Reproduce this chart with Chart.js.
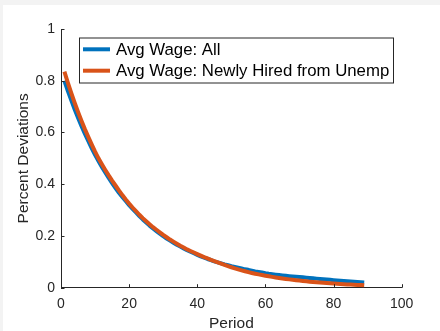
<!DOCTYPE html>
<html><head><meta charset="utf-8">
<script src="https://cdn.jsdelivr.net/npm/chart.js@4"></script>
<style>
html,body{margin:0;padding:0;background:#f3f3f3;width:440px;height:331px;overflow:hidden;}
canvas{display:block;position:absolute;left:0;top:0;}
</style>
</head><body>
<canvas id="c" width="440" height="331"></canvas>
<script>
const periods = [1,2,3,4,5,6,7,8,9,10,11,12,13,14,15,16,17,18,19,20,21,22,23,24,25,26,27,28,29,30,
31,32,33,34,35,36,37,38,39,40,41,42,43,44,45,46,47,48,49,50,51,52,53,54,55,56,57,58,59,60,
61,62,63,64,65,66,67,68,69,70,71,72,73,74,75,76,77,78,79,80,81,82,83,84,85,86,87,88,89];
const avgWageAll = [
0.800,0.761,0.725,0.690,0.657,0.625,0.595,0.567,0.540,0.514,
0.490,0.467,0.445,0.424,0.404,0.385,0.367,0.351,0.335,0.319,
0.305,0.291,0.277,0.264,0.252,0.240,0.229,0.219,0.209,0.199,
0.190,0.182,0.174,0.166,0.159,0.152,0.145,0.139,0.133,0.127,
0.121,0.116,0.111,0.107,0.102,0.098,0.094,0.090,0.087,0.083,
0.080,0.077,0.074,0.071,0.069,0.066,0.063,0.061,0.059,0.056,
0.054,0.0523,0.0506,0.0490,0.0475,0.046,0.0447,0.0435,0.0423,0.0411,
0.040,0.0387,0.0375,0.0363,0.0351,0.034,0.0327,0.0315,0.0303,0.0291,
0.028,0.0269,0.0259,0.0249,0.0239,0.023,0.0221,0.0213,0.0205];
const avgWageNewHire = [
0.835,0.793,0.753,0.715,0.679,0.645,0.613,0.583,0.554,0.526,
0.500,0.477,0.455,0.434,0.414,0.395,0.376,0.358,0.341,0.325,
0.310,0.296,0.282,0.269,0.257,0.245,0.234,0.224,0.214,0.204,
0.195,0.186,0.178,0.170,0.162,0.155,0.148,0.142,0.136,0.130,
0.124,0.118,0.113,0.108,0.103,0.098,0.0929,0.0881,0.0835,0.0791,
0.075,0.0710,0.0672,0.0636,0.0602,0.057,0.0541,0.0514,0.0488,0.0463,
0.044,0.0418,0.0397,0.0377,0.0358,0.034,0.0322,0.0305,0.0289,0.0274,
0.026,0.0247,0.0234,0.0222,0.0211,0.020,0.0189,0.0178,0.0168,0.0159,
0.015,0.0142,0.0135,0.0128,0.0121,0.0115,0.0108,0.0101,0.0095];
const xTicks = [0,20,40,60,80,100];
const xTickLabels = ['0','20','40','60','80','100'];
const yTicks = [0,0.2,0.4,0.6,0.8,1];
const yTickLabels = ['0','0.2','0.4','0.6','0.8','1'];
const seriesLabels = ['Avg Wage: All','Avg Wage: Newly Hired from Unemp'];
const seriesColors = ['#0072BD','#D95319'];

const FONT = "'Liberation Sans', Arial, Helvetica, sans-serif";
const AX = '#262626';

const bgPlugin = {
  id:'bg',
  beforeDraw(chart){
    const ctx = chart.ctx;
    ctx.save();
    ctx.fillStyle = '#f3f3f3';
    ctx.fillRect(0,0,chart.width,chart.height);
    ctx.fillStyle = '#ffffff';
    ctx.fillRect(3,5,chart.width-3,chart.height-5);
    ctx.restore();
  }
};

const tickPlugin = {
  id:'inTicks',
  afterDraw(chart){
    const {ctx, chartArea:a, scales:{x,y}} = chart;
    ctx.save();
    ctx.strokeStyle = AX; ctx.lineWidth = 1;
    ctx.beginPath();
    x.ticks.forEach(t=>{
      const px = Math.round(x.getPixelForValue(t.value)) + 0.5;
      ctx.moveTo(px, a.bottom); ctx.lineTo(px, a.bottom - 3.5);
    });
    y.ticks.forEach(t=>{
      const py = Math.round(y.getPixelForValue(t.value)) + 0.5;
      ctx.moveTo(a.left, py); ctx.lineTo(a.left + 3.5, py);
    });
    ctx.stroke();
    ctx.restore();
  }
};

const legendPlugin = {
  id:'mLegend',
  afterDraw(chart){
    const ctx = chart.ctx;
    ctx.save();
    ctx.fillStyle = '#ffffff';
    ctx.fillRect(79.5, 38, 314, 45);
    ctx.strokeStyle = AX; ctx.lineWidth = 1;
    ctx.strokeRect(79.5, 38, 314, 45);
    chart.data.datasets.forEach((ds,i)=>{
      const ly = 49.3 + i*21.4;
      ctx.strokeStyle = ds.borderColor; ctx.lineWidth = 4; ctx.lineCap = 'butt';
      ctx.beginPath(); ctx.moveTo(83, ly); ctx.lineTo(110, ly); ctx.stroke();
      ctx.fillStyle = '#000000';
      ctx.font = '16.8px ' + FONT;
      ctx.textBaseline = 'middle'; ctx.textAlign = 'left';
      ctx.fillText(ds.label, 116, ly + 1);
    });
    ctx.restore();
  }
};

new Chart(document.getElementById('c'), {
  type:'line',
  data:{
    datasets:[
      {label:seriesLabels[0], data:periods.map((p,i)=>({x:p,y:avgWageAll[i]})), borderColor:seriesColors[0], borderWidth:4, pointRadius:0, tension:0, borderCapStyle:'butt', borderJoinStyle:'round', order:1},
      {label:seriesLabels[1], data:periods.map((p,i)=>({x:p,y:avgWageNewHire[i]})), borderColor:seriesColors[1], borderWidth:4, pointRadius:0, tension:0, borderCapStyle:'butt', borderJoinStyle:'round', order:0}
    ]
  },
  options:{
    responsive:false, animation:false, devicePixelRatio:1,
    layout:{padding:{top:29,right:38.3,left:0,bottom:0}},
    plugins:{legend:{display:false}, tooltip:{enabled:false}},
    scales:{
      x:{
        type:'linear', min:0, max:100,
        afterBuildTicks(s){ s.ticks = xTicks.map(v=>({value:v})); },
        ticks:{font:{family:FONT,size:14}, color:AX, padding:8.5, maxRotation:0, autoSkip:false,
               callback:(v,i)=>xTickLabels[i]},
        grid:{display:false, drawTicks:false},
        border:{display:true, color:AX, width:1},
        title:{display:true, text:'Period', color:AX, font:{family:FONT,size:15.5,lineHeight:0.9}, padding:0},
        afterFit(s){ s.height = 43.3; }
      },
      y:{
        type:'linear', min:0, max:1,
        afterBuildTicks(s){ s.ticks = yTicks.map(v=>({value:v})); },
        ticks:{font:{family:FONT,size:14}, color:AX, padding:6, callback:(v,i)=>yTickLabels[i]},
        grid:{display:false, drawTicks:false},
        border:{display:true, color:AX, width:1},
        title:{display:true, text:'Percent Deviations', color:AX, font:{family:FONT,size:15.5,lineHeight:0.9}, padding:{top:17,bottom:0}},
        afterFit(s){ s.width = 61; }
      }
    }
  },
  plugins:[bgPlugin, tickPlugin, legendPlugin]
});
</script>
</body></html>
